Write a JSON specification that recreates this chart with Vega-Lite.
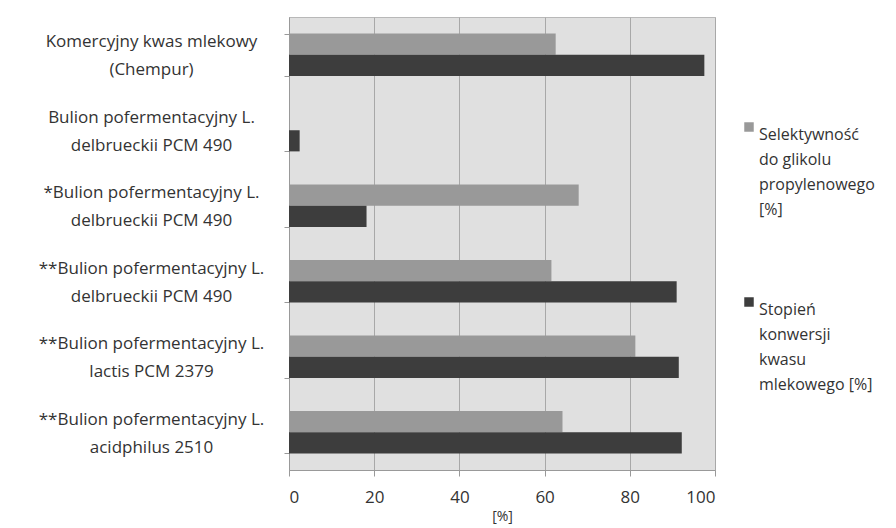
{
  "$schema": "https://vega.github.io/schema/vega-lite/v6.json",
  "width": 426,
  "height": 453,
  "autosize": "none",
  "padding": {"left": 289, "top": 17, "right": 181, "bottom": 58},
  "background": "white",
  "data": {
    "values": [
      {"kat": "Komercyjny kwas mlekowy|(Chempur)", "seria": "Selektywność|do glikolu|propylenowego|[%]", "val": 62.6},
      {"kat": "Komercyjny kwas mlekowy|(Chempur)", "seria": "Stopień|konwersji|kwasu|mlekowego [%]", "val": 97.5},
      {"kat": "Bulion pofermentacyjny L.|delbrueckii PCM 490", "seria": "Selektywność|do glikolu|propylenowego|[%]", "val": 0},
      {"kat": "Bulion pofermentacyjny L.|delbrueckii PCM 490", "seria": "Stopień|konwersji|kwasu|mlekowego [%]", "val": 2.5},
      {"kat": "*Bulion pofermentacyjny L.|delbrueckii PCM 490", "seria": "Selektywność|do glikolu|propylenowego|[%]", "val": 68.0},
      {"kat": "*Bulion pofermentacyjny L.|delbrueckii PCM 490", "seria": "Stopień|konwersji|kwasu|mlekowego [%]", "val": 18.2},
      {"kat": "**Bulion pofermentacyjny L.|delbrueckii PCM 490", "seria": "Selektywność|do glikolu|propylenowego|[%]", "val": 61.6},
      {"kat": "**Bulion pofermentacyjny L.|delbrueckii PCM 490", "seria": "Stopień|konwersji|kwasu|mlekowego [%]", "val": 91.0},
      {"kat": "**Bulion pofermentacyjny L.|lactis PCM 2379", "seria": "Selektywność|do glikolu|propylenowego|[%]", "val": 81.3},
      {"kat": "**Bulion pofermentacyjny L.|lactis PCM 2379", "seria": "Stopień|konwersji|kwasu|mlekowego [%]", "val": 91.5},
      {"kat": "**Bulion pofermentacyjny  L.|acidphilus 2510", "seria": "Selektywność|do glikolu|propylenowego|[%]", "val": 64.2},
      {"kat": "**Bulion pofermentacyjny  L.|acidphilus 2510", "seria": "Stopień|konwersji|kwasu|mlekowego [%]", "val": 92.2}
    ]
  },
  "mark": {"type": "bar"},
  "encoding": {
    "y": {
      "field": "kat",
      "type": "nominal",
      "sort": null,
      "scale": {"paddingInner": 0.44, "paddingOuter": 0.22},
      "axis": {
        "title": null,
        "labelExpr": "split(datum.label, '|')",
        "labelAlign": "center",
        "labelBaseline": "middle",
        "labelOffset": -13,
        "labelPadding": 133,
        "labelFont": "Open Sans",
        "labelFontSize": 17,
        "labelLineHeight": 28,
        "labelColor": "#333333",
        "labelLimit": 300,
        "ticks": true,
        "tickBand": "extent",
        "tickSize": 5,
        "tickColor": "#999999",
        "domainColor": "#999999",
        "grid": false
      }
    },
    "yOffset": {
      "field": "seria",
      "type": "nominal",
      "sort": ["Selektywność|do glikolu|propylenowego|[%]", "Stopień|konwersji|kwasu|mlekowego [%]"]
    },
    "x": {
      "field": "val",
      "type": "quantitative",
      "scale": {"domain": [0, 100], "nice": false},
      "axis": {
        "title": "[%]",
        "values": [0, 20, 40, 60, 80, 100],
        "labelFont": "Open Sans",
        "labelFontSize": 17,
        "labelColor": "#333333",
        "labelPadding": 13,
        "titleFont": "Open Sans",
        "titleFontSize": 14,
        "titleFontWeight": "normal",
        "titleColor": "#333333",
        "titlePadding": 4,
        "gridColor": "#a8a8a8",
        "domainColor": "#999999",
        "tickColor": "#999999",
        "tickSize": 6
      }
    },
    "color": {
      "field": "seria",
      "type": "nominal",
      "scale": {
        "domain": ["Selektywność|do glikolu|propylenowego|[%]", "Stopień|konwersji|kwasu|mlekowego [%]"],
        "range": ["#999999", "#3d3d3d"]
      },
      "legend": {
        "title": null,
        "orient": "none",
        "legendX": 452,
        "legendY": 102,
        "labelExpr": "split(datum.label, '|')",
        "labelFont": "Open Sans",
        "labelFontSize": 16,
        "labelColor": "#333333",
        "labelBaseline": "top",
        "labelOffset": 2,
        "labelLimit": 200,
        "symbolType": "square",
        "symbolSize": 90,
        "symbolStrokeWidth": 0,
        "rowPadding": 76
      }
    }
  },
  "config": {
    "view": {"fill": "#e0e0e0", "stroke": "#b8b8b8"},
    "style": {"guide-label": {"lineHeight": 25}}
  }
}
